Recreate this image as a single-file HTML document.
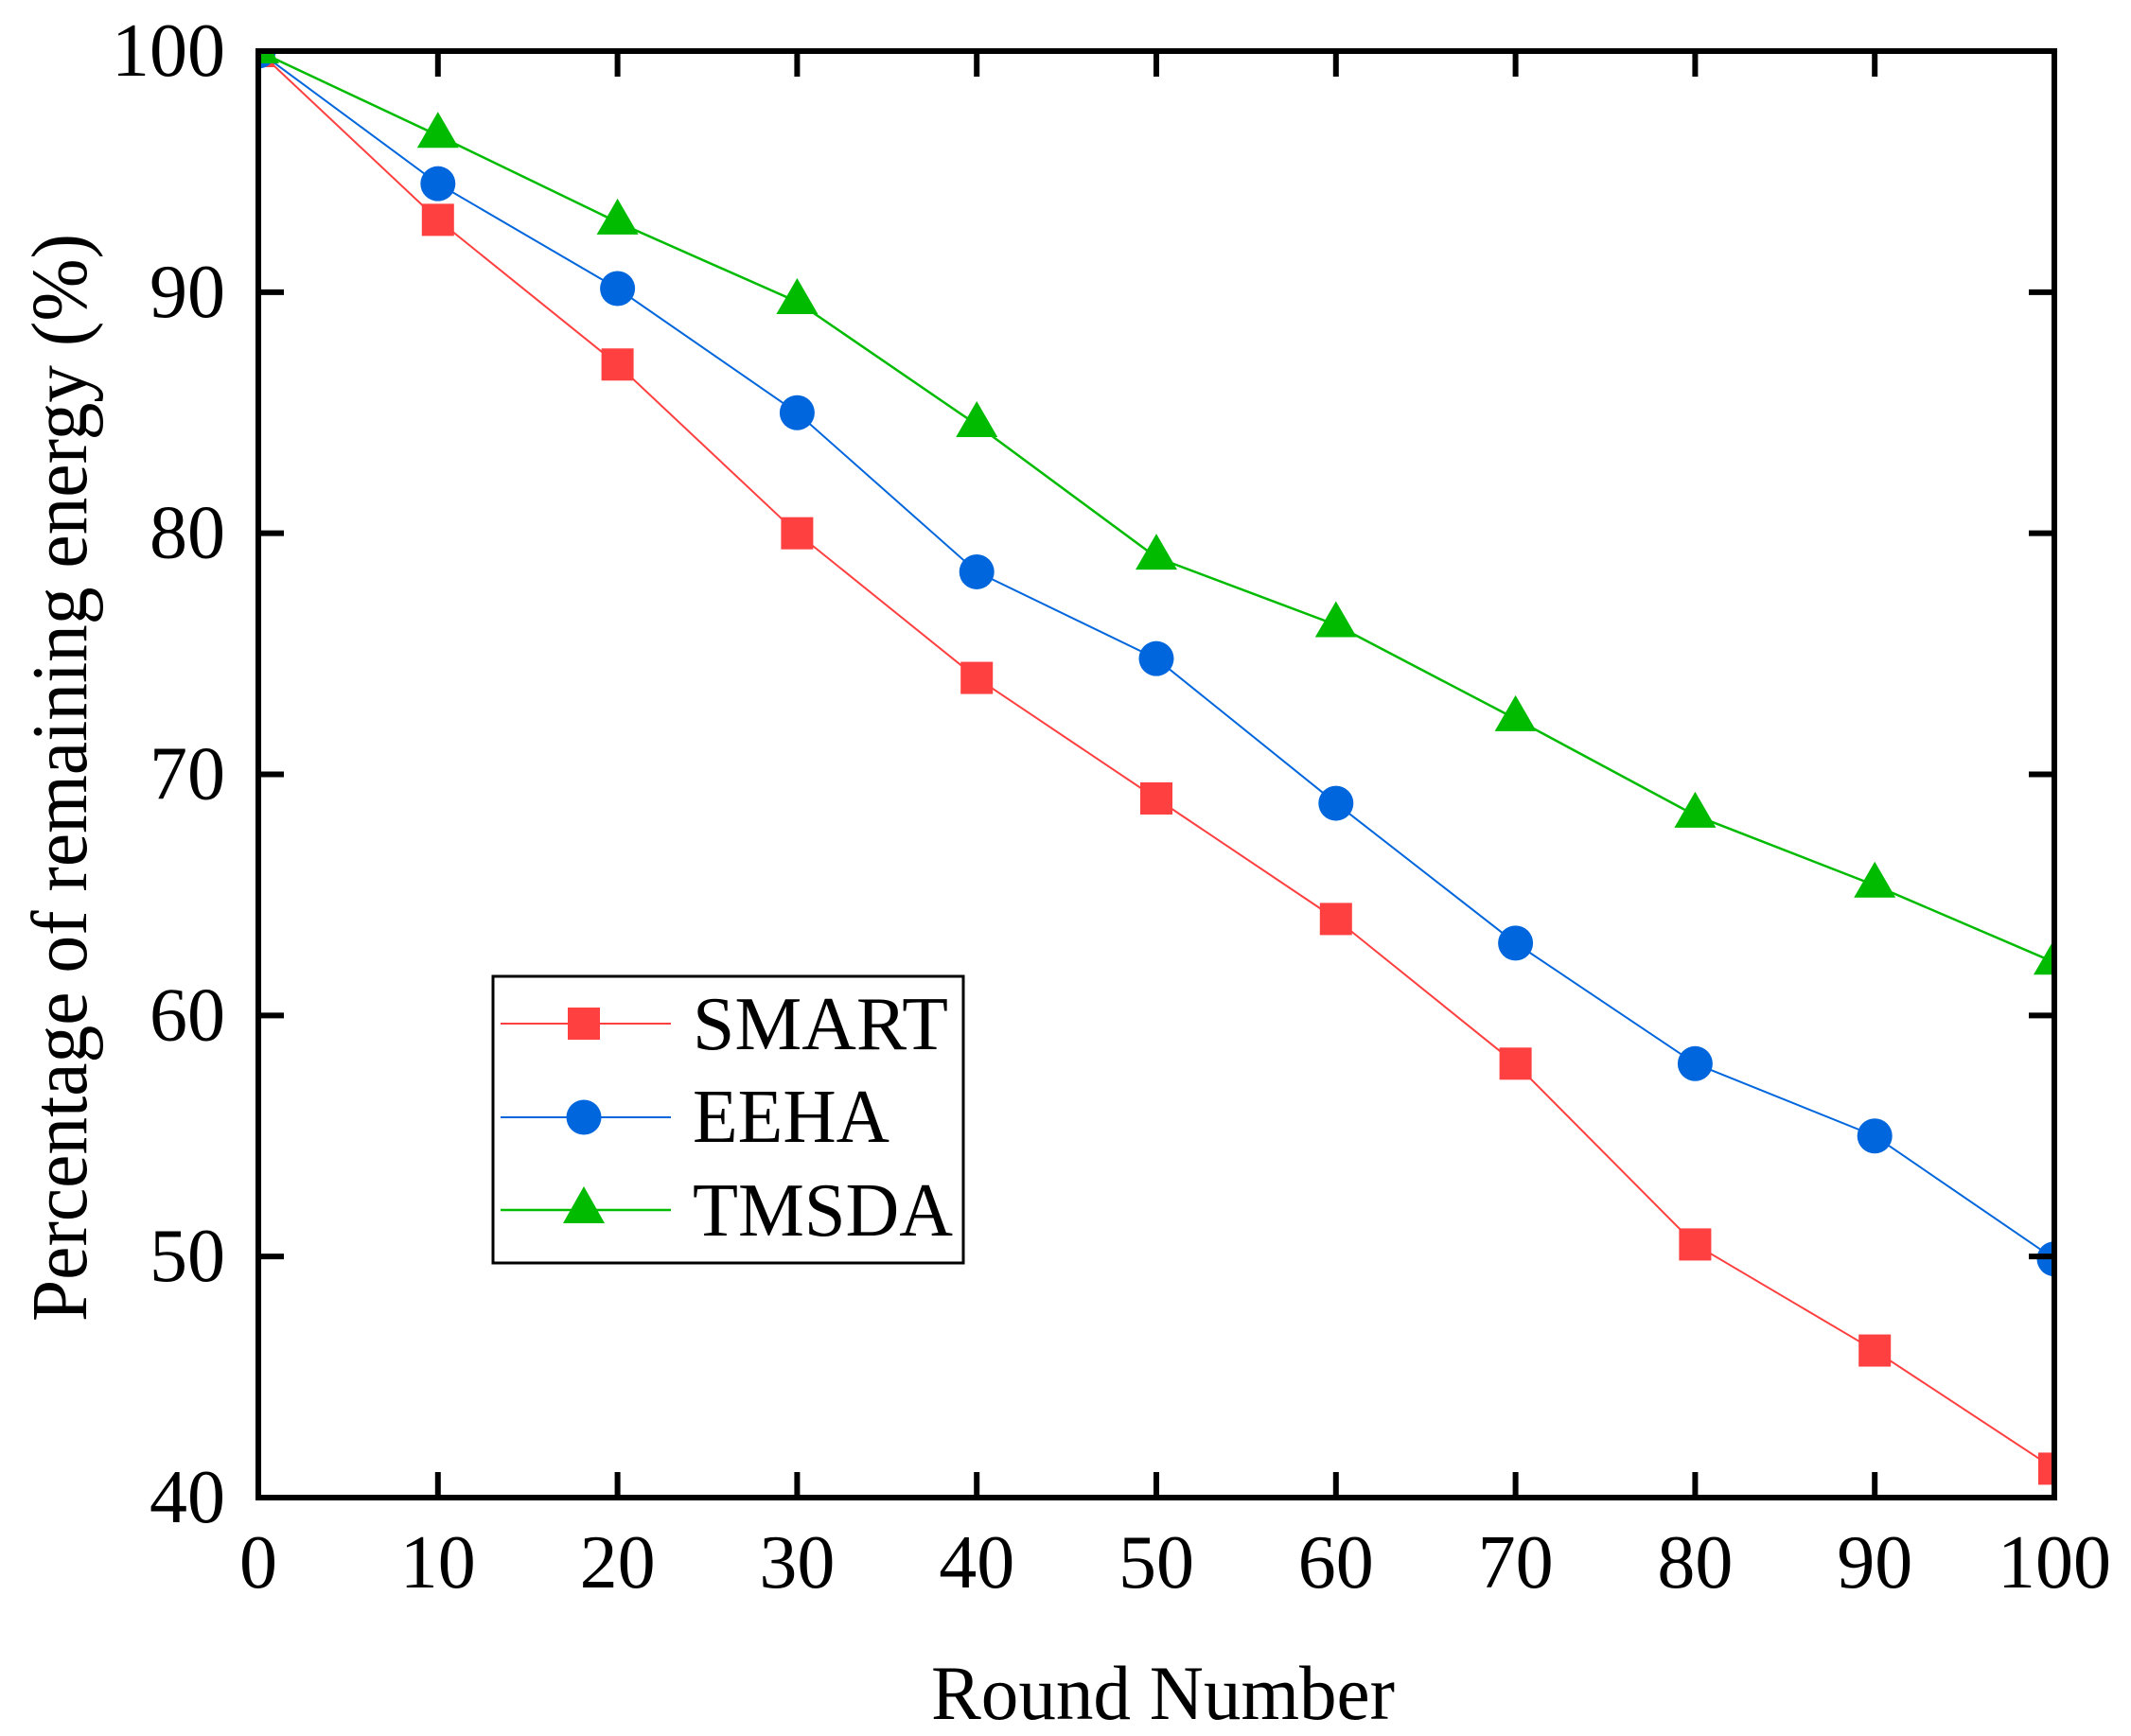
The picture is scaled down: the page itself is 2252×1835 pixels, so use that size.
<!DOCTYPE html>
<html><head><meta charset="utf-8"><style>
html,body{margin:0;padding:0;background:#fff;}
svg{display:block;font-family:"Liberation Serif",serif;}
</style></head><body>
<svg id="chart" width="2252" height="1835" viewBox="0 0 2252 1835" xmlns="http://www.w3.org/2000/svg">
<defs><clipPath id="pc"><rect x="273" y="54" width="1898" height="1529"/></clipPath></defs>
<g id="series" clip-path="url(#pc)"></g>
<rect x="273" y="54" width="1898" height="1529" fill="none" stroke="#000" stroke-width="6"/>
<g id="axes"></g>
<text x="1229" y="1817" font-size="82" text-anchor="middle" textLength="490" lengthAdjust="spacingAndGlyphs">Round Number</text>
<text transform="translate(91,822) rotate(-90)" font-size="84" text-anchor="middle" textLength="1150" lengthAdjust="spacingAndGlyphs">Percentage of remaining energy (%)</text>
<g>
<rect x="521" y="1032" width="497" height="303" fill="#fff" stroke="#000" stroke-width="3"/>
<g>
<line x1="529" y1="1082" x2="709" y2="1082" stroke="#ff4040" stroke-width="2"/>
<rect x="600" y="1065" width="34" height="34" fill="#ff4040"/>
<text x="732" y="1109" font-size="80" textLength="270" lengthAdjust="spacingAndGlyphs">SMART</text></g>
<g>
<line x1="529" y1="1181" x2="709" y2="1181" stroke="#0066dd" stroke-width="2"/>
<circle cx="617" cy="1181" r="18.5" fill="#0066dd"/>
<text x="732" y="1207" font-size="80" textLength="208" lengthAdjust="spacingAndGlyphs">EEHA</text></g>
<g>
<line x1="529" y1="1279" x2="709" y2="1279" stroke="#00bb00" stroke-width="2.5"/>
<polygon points="617,1254 595,1293 639,1293" fill="#00bb00"/>
<text x="732" y="1306" font-size="80" textLength="275" lengthAdjust="spacingAndGlyphs">TMSDA</text></g>
</g>
</svg>
<script>
const rounds = [0,10,20,30,40,50,60,70,80,90,100];
const smart = [100,93.0,87.0,80.0,74.0,69.0,64.0,58.0,50.5,46.1,41.2];
const eeha = [100,94.5,90.15,85.0,78.4,74.8,68.8,63.0,58.0,55.0,49.9];
const tmsda = [100,96.5,92.9,89.6,84.5,79.0,76.2,72.3,68.3,65.4,62.2];
const xTicks = [0,10,20,30,40,50,60,70,80,90,100];
const yTicks = [40,50,60,70,80,90,100];
const NS = "http://www.w3.org/2000/svg";
const X0=273,X1=2171,Y0=1583,Y1=54;
function xs(v){return X0+(v-0)/(100-0)*(X1-X0);}
function ys(v){return Y0-(v-40)/(100-40)*(Y0-Y1);}
function mk(tag,attrs,parent){const e=document.createElementNS(NS,tag);for(const k in attrs)e.setAttribute(k,attrs[k]);parent.appendChild(e);return e;}
const axes=document.getElementById('axes');
xTicks.forEach(t=>{
  const x=xs(t);
  if(t>0&&t<100){
    const a=mk('line',{x1:x,y1:Y0,x2:x,y2:Y0-27,stroke:'#000','stroke-width':6},axes);
    
    
    const b=mk('line',{x1:x,y1:Y1,x2:x,y2:Y1+27,stroke:'#000','stroke-width':6},axes);
    
    
  }
  const l=mk('text',{x:x,y:1678,'font-size':80,'text-anchor':'middle'},axes);
  l.textContent=t;
  
  
});
yTicks.forEach(t=>{
  const y=ys(t);
  if(t>40&&t<100){
    const a=mk('line',{x1:X0,y1:y,x2:X0+27,y2:y,stroke:'#000','stroke-width':6},axes);
    
    
    const b=mk('line',{x1:X1,y1:y,x2:X1-27,y2:y,stroke:'#000','stroke-width':6},axes);
    
    
  }
  const l=mk('text',{x:238,y:y+26,'font-size':80,'text-anchor':'end'},axes);
  l.textContent=t;
  
  
});
const sg=document.getElementById('series');
function draw(vals,color,name,shape,w){
  const g=mk('g',{},sg);
  
  
  const pts=vals.map((v,i)=>xs(rounds[i])+','+ys(v)).join(' ');
  const pl=mk('polyline',{points:pts,fill:'none',stroke:color,'stroke-width':w},g);
  
  
  vals.forEach((v,i)=>{
    const x=xs(rounds[i]),y=ys(v);let m;
    if(shape==='square')m=mk('rect',{x:x-17,y:y-17,width:34,height:34,fill:color},g);
    else if(shape==='circle')m=mk('circle',{cx:x,cy:y,r:18.5,fill:color},g);
    else m=mk('polygon',{points:`${x},${y-25} ${x-22},${y+13} ${x+22},${y+13}`,fill:color},g);
    
    
  });
}
draw(smart,'#ff4040','smart','square',2);
draw(eeha,'#0066dd','eeha','circle',2);
draw(tmsda,'#00bb00','tmsda','triangle',2.5);
</script>
</body></html>
